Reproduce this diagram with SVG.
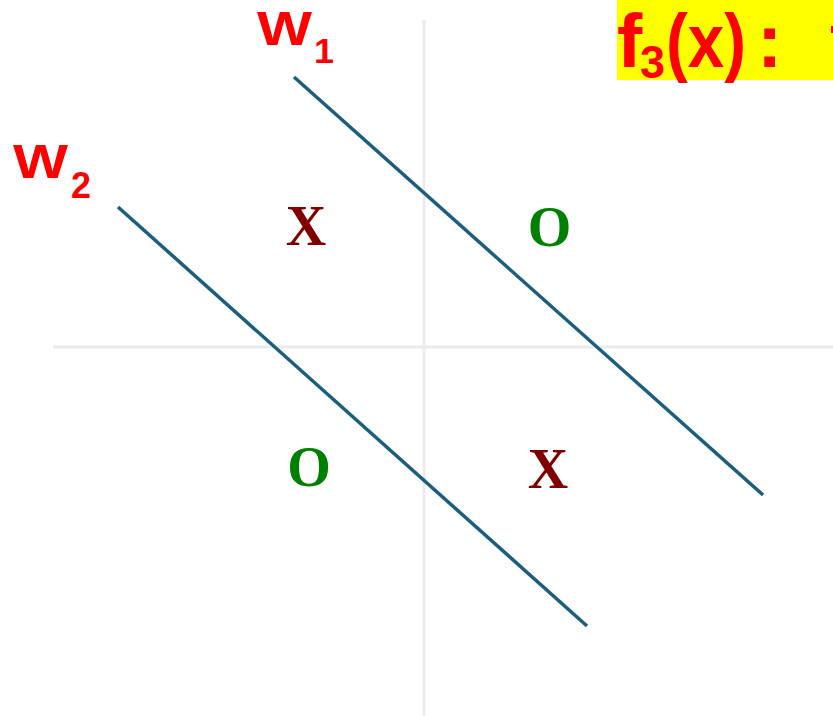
<svg xmlns="http://www.w3.org/2000/svg" width="833" height="716" viewBox="0 0 833 716">
<style>
.axis{stroke:#ebebeb;stroke-width:3;fill:none}
.wline{stroke:#1b5e80;stroke-width:3.5;stroke-linecap:butt;fill:none}
.lbl{font-family:"Liberation Sans",Arial,sans-serif;font-weight:bold;fill:#ff0000}
.mk{font-family:"Liberation Serif","Times New Roman",serif;font-weight:bold;font-size:56px;text-anchor:middle}
.x{fill:#800000}
.o{fill:#008000}
</style>
<rect width="833" height="716" fill="#ffffff"/>
<g id="axes">
<line class="axis" x1="424" y1="20" x2="424" y2="716"/>
<line class="axis" x1="53" y1="347" x2="833" y2="347"/>
</g>
<g id="connectors">
<line class="wline" x1="294" y1="77" x2="763" y2="495"/>
<line class="wline" x1="118" y1="207" x2="587" y2="626"/>
</g>
<g id="title">
<rect x="617" y="0" width="216" height="80" fill="#ffff00"/>
<text class="lbl" x="617" y="67" font-size="76">f</text>
<text class="lbl" x="640" y="78" font-size="46" textLength="25" lengthAdjust="spacingAndGlyphs">3</text>
<text class="lbl" x="666" y="67" font-size="76" textLength="80" lengthAdjust="spacingAndGlyphs">(x)</text>
<text class="lbl" x="757" y="67" font-size="76">:</text>
<rect x="831" y="26" width="2" height="7" fill="#ff0000"/>
</g>
<g id="w1">
<text class="lbl" x="257" y="45" font-size="49" textLength="55" lengthAdjust="spacingAndGlyphs">W</text>
<text class="lbl" x="314" y="63" font-size="35" textLength="20" lengthAdjust="spacingAndGlyphs">1</text>
</g>
<g id="w2">
<text class="lbl" x="13" y="178" font-size="49" textLength="55" lengthAdjust="spacingAndGlyphs">W</text>
<text class="lbl" x="71" y="198" font-size="36" textLength="20" lengthAdjust="spacingAndGlyphs">2</text>
</g>
<g id="p1"><text class="mk x" x="306" y="245">X</text></g>
<g id="p2"><text class="mk o" x="549.5" y="246">O</text></g>
<g id="p3"><text class="mk o" x="309" y="486">O</text></g>
<g id="p4"><text class="mk x" x="548" y="488">X</text></g>
</svg>
